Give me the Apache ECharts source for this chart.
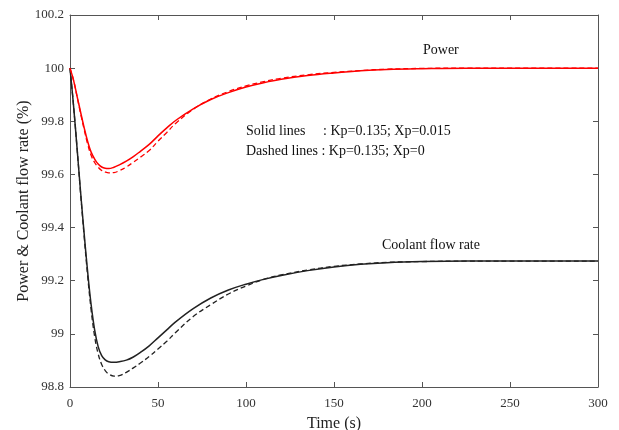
<!DOCTYPE html>
<html><head><meta charset="utf-8">
<script src="https://cdn.jsdelivr.net/npm/echarts@6/dist/echarts.min.js"></script>
<style>html,body{margin:0;padding:0;background:#fff}#c{width:619px;height:430px}</style>
</head><body><div id="c"></div>
<script>
var times = [0,2,4,6,8,10,12,14,16,18,20,22,25,28,32,36,40,45,50,55,60,70,80,90,100,110,120,135,150,165,180,200,225,250,300];
var powerSolid = [100,99.955,99.895,99.835,99.777,99.725,99.684,99.658,99.639,99.628,99.623,99.622,99.627,99.636,99.65,99.667,99.687,99.713,99.745,99.775,99.803,99.847,99.882,99.908,99.929,99.945,99.958,99.972,99.982,99.99,99.995,99.998,100,100,100];
var powerDashed = [100,99.955,99.893,99.83,99.77,99.715,99.672,99.645,99.627,99.615,99.609,99.606,99.607,99.614,99.628,99.646,99.665,99.69,99.725,99.758,99.792,99.845,99.884,99.912,99.933,99.949,99.962,99.975,99.984,99.991,99.996,99.999,100,100,100];
var coolSolid = [100,99.86,99.7,99.535,99.38,99.235,99.11,99.015,98.952,98.918,98.902,98.895,98.893,98.895,98.901,98.913,98.93,98.955,98.985,99.015,99.045,99.095,99.135,99.165,99.187,99.205,99.22,99.238,99.252,99.262,99.268,99.272,99.274,99.274,99.274];
var coolDashed = [100,99.86,99.7,99.53,99.37,99.22,99.09,98.99,98.925,98.885,98.862,98.849,98.841,98.843,98.855,98.872,98.89,98.915,98.943,98.972,99.005,99.065,99.11,99.15,99.18,99.205,99.222,99.24,99.254,99.263,99.269,99.272,99.274,99.274,99.274];

var xTicks = [0,50,100,150,200,250,300];
var yTicks = [98.8,99,99.2,99.4,99.6,99.8,100,100.2];

function pairs(t, v){ return t.map(function(x,i){ return [x, v[i]]; }); }

var FONT = 'Liberation Serif';
var axisCol = '#555';
var chart = echarts.init(document.getElementById('c'));
var baseX = {type:'value', min:0, max:300, interval:50,
  axisLine:{show:true, onZero:false, lineStyle:{color:axisCol, width:1}},
  axisTick:{show:true, inside:true, length:5, lineStyle:{color:axisCol}},
  splitLine:{show:false}};
var baseY = {type:'value', min:98.8, max:100.2, interval:0.2,
  axisLine:{show:true, onZero:false, lineStyle:{color:axisCol, width:1}},
  axisTick:{show:true, inside:true, length:5, lineStyle:{color:axisCol}},
  splitLine:{show:false}};
chart.setOption({
  animation:false,
  grid:{left:70, right:21, top:15, bottom:43, outerBoundsMode:'none', containLabel:false},
  xAxis:[
    Object.assign({}, baseX, {position:'bottom', name:'Time (s)', nameLocation:'middle', nameGap:29, nameMoveOverlap:false,
      nameTextStyle:{fontFamily:FONT, fontSize:16, color:'#222'},
      axisLabel:{fontFamily:FONT, fontSize:13, color:'#333', margin:10,
        formatter:function(v){ return xTicks.indexOf(v)>=0 ? String(v) : ''; }}}),
    Object.assign({}, baseX, {position:'top', axisLabel:{show:false}})
  ],
  yAxis:[
    Object.assign({}, baseY, {position:'left', name:'Power & Coolant flow rate (%)', nameLocation:'middle', nameGap:38, nameMoveOverlap:false,
      nameTextStyle:{fontFamily:FONT, fontSize:16, color:'#222'},
      axisLabel:{fontFamily:FONT, fontSize:13, color:'#333', margin:6,
        formatter:function(v){ var r=Math.round(v*10)/10; return yTicks.indexOf(r)>=0 ? String(r) : ''; }}}),
    Object.assign({}, baseY, {position:'right', axisLabel:{show:false}})
  ],
  series:[
    {type:'line', data:pairs(times, powerSolid), smooth:0.4, symbol:'none', lineStyle:{color:'#ff0000', width:1.5}, z:3},
    {type:'line', data:pairs(times, powerDashed), smooth:0.4, symbol:'none', lineStyle:{color:'#ff0000', width:1.3, type:[5,3]}, z:3},
    {type:'line', data:pairs(times, coolSolid), smooth:0.4, symbol:'none', lineStyle:{color:'#222', width:1.5}, z:2},
    {type:'line', data:pairs(times, coolDashed), smooth:0.4, symbol:'none', lineStyle:{color:'#222', width:1.3, type:[5,3]}, z:2}
  ],
  graphic:[
    {type:'text', left:423, top:43, style:{text:'Power', font:'14px "Liberation Serif"', fill:'#111'}},
    {type:'text', left:246, top:124, style:{text:'Solid lines     : Kp=0.135; Xp=0.015', font:'14px "Liberation Serif"', fill:'#111'}},
    {type:'text', left:246, top:144, style:{text:'Dashed lines : Kp=0.135; Xp=0', font:'14px "Liberation Serif"', fill:'#111'}},
    {type:'text', left:382, top:238, style:{text:'Coolant flow rate', font:'14px "Liberation Serif"', fill:'#111'}}
  ]
});
</script></body></html>
